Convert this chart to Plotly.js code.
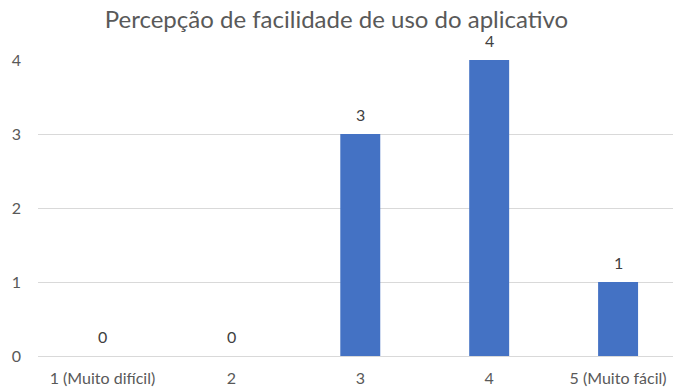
<!DOCTYPE html>
<html><head><meta charset="utf-8">
<script src="https://cdn.plot.ly/plotly-3.0.1.min.js"></script>
<style>html,body{margin:0;padding:0;background:#fff;}#c{width:673px;height:387px;}</style>
</head><body><div id="c"></div>
<script>
const categories = ["1 (Muito difícil)", "2", "3", "4", "5 (Muito fácil)"];
const values = [0, 0, 3, 4, 1];
const yTicks = [0, 1, 2, 3, 4];
const titleText = "Percepção de facilidade de uso do aplicativo";

const font = "Lato, Open Sans, sans-serif";
const labels = values.map((v, i) => ({
  x: i, y: v, text: String(v), showarrow: false,
  xref: "x", yref: "y", yanchor: "bottom", yshift: 8,
  font: {family: font, size: 16, color: "#404040"}
}));
Plotly.newPlot("c", [{
  type: "bar",
  x: categories,
  y: values,
  width: 0.31,
  marker: {color: "#4472C4"},
  hoverinfo: "none"
}], {
  width: 673, height: 387,
  margin: {l: 37.5, r: 0, t: 60, b: 31, pad: 0},
  paper_bgcolor: "#fff", plot_bgcolor: "#fff",
  showlegend: false,
  annotations: labels,
  title: {text: titleText, x: 0.5, xanchor: "center", y: 0.95, yanchor: "middle",
          font: {family: font, size: 24, color: "#595959"}},
  xaxis: {type: "category", range: [-0.5, 4.426], showgrid: false, zeroline: false,
          showline: false, ticks: "", ticklabelstandoff: 11,
          tickfont: {family: font, size: 16, color: "#595959"}, fixedrange: true},
  yaxis: {range: [0, 4], tickvals: yTicks, showgrid: true, gridcolor: "#d9d9d9", gridwidth: 1,
          zeroline: true, zerolinecolor: "#d9d9d9", zerolinewidth: 1, showline: false, ticks: "",
          ticklabelstandoff: 16,
          tickfont: {family: font, size: 16, color: "#595959"}, fixedrange: true}
}, {displayModeBar: false, staticPlot: true});
</script></body></html>
